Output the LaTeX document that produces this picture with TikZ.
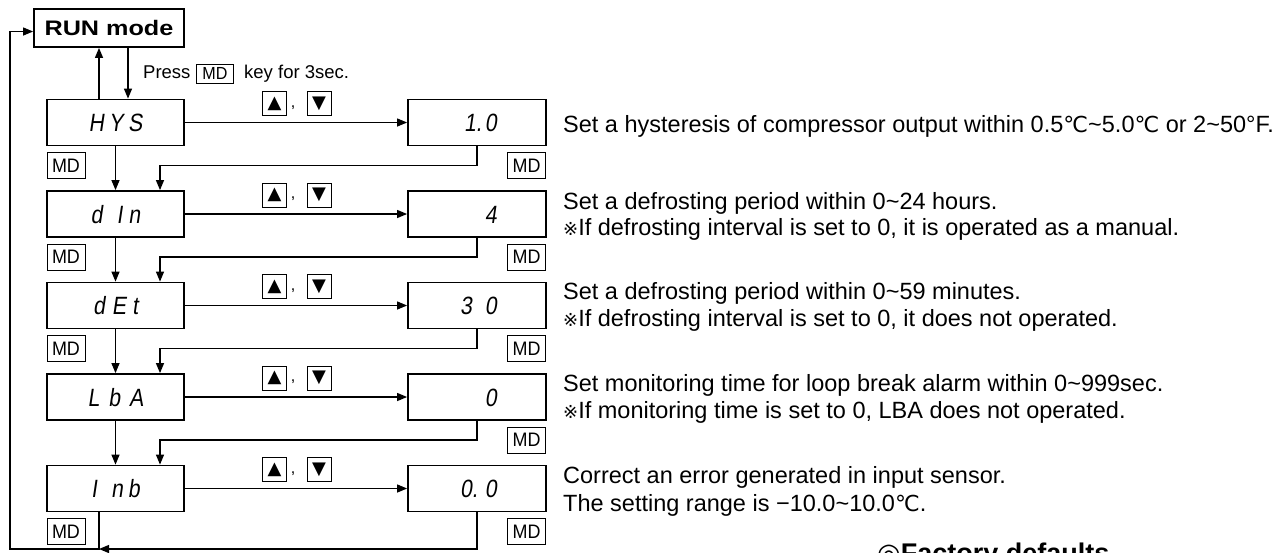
\documentclass[tikz,border=0pt]{standalone}
\usepackage{fontspec}
\setmainfont{Liberation Sans}
\newfontfamily\descfont{Liberation Sans}
\newfontfamily\symfont{DejaVu Sans}
\newfontfamily\segfont[FakeSlant=0.15,FakeStretch=0.85]{Liberation Sans}
\newfontfamily\runfont[FakeStretch=1.2]{Liberation Sans}
\newfontfamily\mdfont[FakeStretch=0.92]{Liberation Sans}
\usetikzlibrary{arrows.meta}
\newcommand\degC{{\symfont\fontsize{22}{22}\selectfont ℃}}
\newcommand\refmk{{\symfont\fontsize{18}{18}\selectfont ※}}
\tikzset{
  lbox/.style={draw, line width=1.8pt, minimum width=137pt, minimum height=46pt, inner sep=0pt,
    font=\segfont\fontsize{25}{25}\selectfont, text height=18pt, text depth=0pt},
  rbox/.style={draw, line width=1.8pt, minimum width=138pt, minimum height=46pt, inner sep=0pt},
  segtxt/.style={inner sep=0pt, font=\segfont\fontsize{25}{25}\selectfont, text height=18pt, text depth=0pt},
  mdbox/.style={draw, line width=0.9pt, minimum width=38pt, minimum height=26pt, inner sep=0pt,
    font=\mdfont\fontsize{19.5}{19.5}\selectfont},
  mdin/.style={draw, line width=0.9pt, minimum width=37pt, minimum height=19pt, inner sep=0pt,
    font=\mdfont\fontsize{17.5}{17.5}\selectfont},
  keybox/.style={draw, line width=1pt, minimum width=24pt, minimum height=24pt, inner sep=0pt,
    font=\symfont\fontsize{18}{18}\selectfont},
  conn/.style={line width=1.2pt, -{Triangle[length=10pt,width=8pt]}},
  desc/.style={anchor=base west, inner sep=0pt, font=\descfont\fontsize{23.5}{23.5}\selectfont},
}
\begin{document}
\begin{tikzpicture}[x=1pt,y=-1pt]
\useasboundingbox (0,0) rectangle (1285,552);

% RUN mode
\node[draw, line width=1.8pt, minimum width=150pt, minimum height=38pt, inner sep=0pt,
  font=\runfont\bfseries\fontsize{21}{21}\selectfont] (RUN) at (109,28) {RUN mode};

% rows
\foreach \i/\y/\lt/\rt in {
  1/122.5/{H\hspace{5pt}Y\hspace{5pt}S}/{1\rlap{.}\hspace{9pt}0},
  2/214/{d\hspace{14pt}I\hspace{6pt}n}/{4},
  3/305.5/{d\hspace{7pt}E\hspace{6pt}t}/{3\hspace{13pt}0},
  4/397/{L\hspace{9pt}b\hspace{9pt}A}/{0},
  5/488.5/{I\hspace{14pt}n\hspace{5pt}b}/{0\rlap{.}\hspace{13pt}0}} {
  \node[lbox] (L\i) at (115.5,\y) {\lt};
  \node[rbox] (R\i) at (477,\y) {};
  \node[segtxt, anchor=east] (Rt\i) at (497,\y) {\rt};
  \node[keybox] (ku\i) at (274.5,\y-19) {▲};
  \node[keybox] (kd\i) at (319,\y-19) {▼};
  \node[inner sep=0pt, font=\fontsize{16}{16}\selectfont] (cm\i) at (293,\y-15) {,};
  \draw[conn] (L\i) -- (R\i);
  \node[mdbox] (mdr\i) at (526.5,\y+43) {MD};
}
\node[mdbox] (mdl1) at (66,165.5) {MD};
\node[mdbox] (mdl2) at (66,257) {MD};
\node[mdbox] (mdl3) at (66,348.5) {MD};
\node[mdbox] (mdl5) at (66,531.5) {MD};

% vertical arrows and return lines
\foreach \i/\j in {1/2,2/3,3/4,4/5} {
  \draw[conn] (L\i.south) -- (L\j.north);
  \draw[conn] (R\i.south) -- ++(0,19) -| ([xshift=44.5pt]L\j.north);
}

% RUN <-> HYS
\draw[conn] ([xshift=-16.5pt]L1.north) -- ([xshift=-16.5pt]L1.north |- RUN.south);
\draw[conn] ([xshift=12.5pt]L1.north |- RUN.south) -- ([xshift=12.5pt]L1.north);

% bottom return loop
\coordinate (b0) at (99,549);
\coordinate (lc) at (10,549);
\draw[conn] ([xshift=-16.5pt]L5.south) |- (lc) |- ([yshift=-3.5pt]RUN.west);
\draw[conn] (R5.south) |- (b0);

% press MD key
\node[anchor=base west, inner sep=0pt, font=\descfont\fontsize{18.5}{18.5}\selectfont] (press) at (143,78) {Press};
\node[mdin] (mdk) at (215,73.5) {MD};
\node[anchor=base west, inner sep=0pt, font=\descfont\fontsize{18.5}{18.5}\selectfont] (keyt) at (244,78) {key for 3sec.};

% descriptions
\node[desc] (d1) at (563,132) {Set a hysteresis of compressor output within 0.5\degC\textasciitilde5.0\degC\ or 2\textasciitilde50°F.};
\node[desc] (d2a) at (563,209) {Set a defrosting period within 0\textasciitilde24 hours.};
\node[desc] (d2b) at (563,235) {\refmk If defrosting interval is set to 0, it is operated as a manual.};
\node[desc] (d3a) at (563,299) {Set a defrosting period within 0\textasciitilde59 minutes.};
\node[desc] (d3b) at (563,326) {\refmk If defrosting interval is set to 0, it does not operated.};
\node[desc] (d4a) at (563,391) {Set monitoring time for loop break alarm within 0\textasciitilde999sec.};
\node[desc] (d4b) at (563,418) {\refmk If monitoring time is set to 0, LBA does not operated.};
\node[desc] (d5a) at (563,483) {Correct an error generated in input sensor.};
\node[desc] (d5b) at (563,511) {The setting range is −10.0\textasciitilde10.0\degC.};

\node[anchor=base west, inner sep=0pt, font=\bfseries\fontsize{27}{27}\selectfont] (fd) at (877,562) {{\symfont ◎}Factory defaults};
\end{tikzpicture}
\end{document}
